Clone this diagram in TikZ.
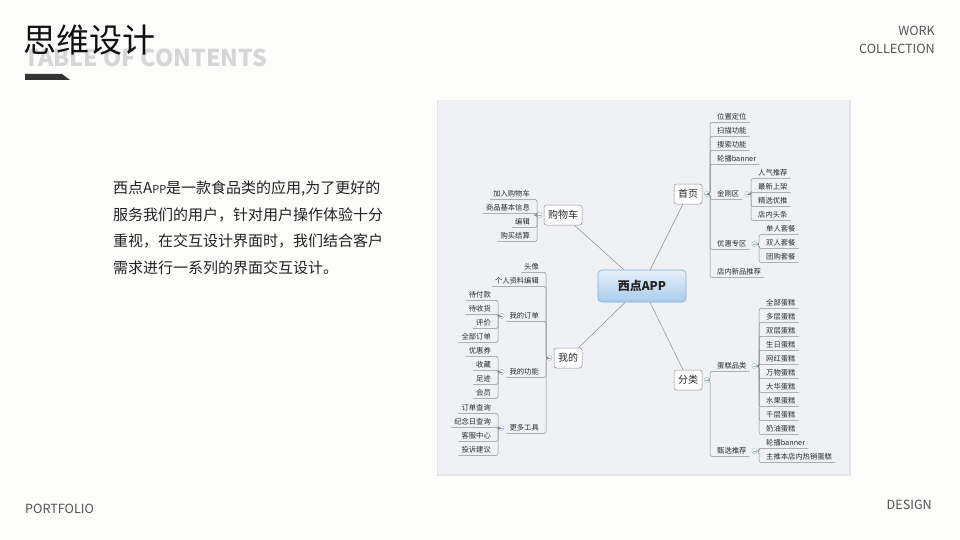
\documentclass[tikz,border=0pt]{standalone}
\usepackage{fontspec}
\setmainfont{Noto Sans CJK SC}
\usepackage{xcolor}
\usepackage{tikz}
\usetikzlibrary{positioning}
\definecolor{pageBg}{HTML}{FCFCFB}
\definecolor{panelFill}{HTML}{EFF1F5}
\definecolor{panelShade}{HTML}{E4E5E8}
\definecolor{titleInk}{HTML}{111111}
\definecolor{ghostGrey}{HTML}{D6D6D6}
\definecolor{barInk}{HTML}{333333}
\definecolor{capsGrey}{HTML}{555555}
\definecolor{bodyInk}{HTML}{222222}
\definecolor{branchGrey}{HTML}{8C8C8C}
\definecolor{leafInk}{HTML}{2B2B2B}
\definecolor{boxLine}{HTML}{8E8E8E}
\definecolor{rootTop}{HTML}{E6F0FA}
\definecolor{rootBottom}{HTML}{A9CCEB}
\definecolor{rootLine}{HTML}{7FA6D2}
\definecolor{foldBlue}{HTML}{9DB3CF}
\tikzset{
  pagetitle/.style={anchor=base west, inner sep=0pt, font=\fontsize{33}{33}\selectfont, text=titleInk},
  ghosttitle/.style={anchor=base west, inner sep=0pt, font=\fontsize{23.2}{24}\selectfont\bfseries, text=ghostGrey},
  cornertext/.style={inner sep=0pt, font=\fontsize{12.6}{13}\selectfont, text=capsGrey},
  bodytext/.style={anchor=base west, inner sep=0pt, align=left, font=\fontsize{15}{26.7}\selectfont, text=bodyInk},
  % --- mind map styles ---
  rootbox/.style={rectangle, rounded corners=4pt, draw=rootLine, top color=rootTop, bottom color=rootBottom, line width=0.6pt, font=\fontsize{12}{14}\selectfont\bfseries, text=bodyInk, minimum width=88pt, minimum height=32pt},
  mainbox/.style={rectangle, rounded corners=2.5pt, draw=boxLine, fill=white, line width=0.5pt, font=\fontsize{10}{12}\selectfont, text=leafInk, inner xsep=4pt, inner ysep=0pt, minimum height=20pt},
  leaf/.style={font=\fontsize{7.3}{8}\selectfont, text=leafInk, inner xsep=3pt, inner ysep=1.5pt, text height=6pt, text depth=1.5pt},
  leafR/.style={leaf, anchor=west},
  leafL/.style={leaf, anchor=east},
  foldmark/.style={circle, draw=foldBlue, fill=white, line width=0.4pt, inner sep=0pt, minimum size=5pt,
    path picture={\draw[foldBlue, line width=0.4pt] ([xshift=-1.5pt]path picture bounding box.center) -- ([xshift=1.5pt]path picture bounding box.center);}},
  branch/.style={draw=branchGrey, line width=0.5pt, rounded corners=2pt},
  spoke/.style={draw=branchGrey, line width=0.5pt},
}
\begin{document}
\begin{tikzpicture}[x=1pt,y=-1pt]
  \fill[pageBg] (0,0) rectangle (960,540);
  \useasboundingbox (0,0) rectangle (960,540);

  % heading and corner texts
  \node[ghosttitle] (ghost) at (24,67) {TABLE OF CONTENTS};
  \node[pagetitle] (title) at (23,53) {思维设计};
  \fill[barInk] (25,74) -- (62,74) -- (70,80) -- (25,80) -- cycle;
  \node[cornertext, anchor=base east] (work) at (935,35.2) {WORK};
  \node[cornertext, anchor=base east] (collection) at (935,53.2) {COLLECTION};
  \node[cornertext, anchor=base west] (portfolio) at (25,513.2) {PORTFOLIO};
  \node[cornertext, anchor=base east] (design) at (932,509.2) {DESIGN};

  \node[bodytext] (intro) at (113,273.5) {西点A{\fontsize{11}{11}\selectfont PP}是一款食品类的应用,为了更好的\\
    服务我们的用户，针对用户操作体验十分\\
    重视，在交互设计界面时，我们结合客户\\
    需求进行一系列的界面交互设计。};

  % mind map panel
  \fill[panelShade] (437,100) rectangle (851,476);
  \fill[panelFill] (438,100) rectangle (849,474);

  \node[rootbox] (root) at (642,286) {西点APP};
  \node[mainbox] (sy) at (688,194) {首页};
  \node[mainbox] (gwc) at (563,215) {购物车};
  \node[mainbox] (wd) at (568,358) {我的};
  \node[mainbox] (fl) at (688,380) {分类};
  \draw[spoke] (root) -- (sy);
  \draw[spoke] (root) -- (gwc);
  \draw[spoke] (root) -- (wd);
  \draw[spoke] (root) -- (fl);

  % 首页
  \node[foldmark, right=2pt of sy] (syfold) {};
  \coordinate (sybar) at (710,194);
  \node[leafR] (sy1) at (714,117) {位置定位};
  \node[leafR] (sy2) at (714,131) {扫描功能};
  \node[leafR] (sy3) at (714,145) {搜索功能};
  \node[leafR] (sy4) at (714,159) {轮播banner};
  \node[leafR] (sy5) at (714,194) {金刚区};
  \node[leafR] (sy6) at (714,244) {优惠专区};
  \node[leafR] (sy7) at (714,272) {店内新品推荐};
  \foreach \c in {sy1,sy2,sy3,sy4,sy5,sy6,sy7}
    \draw[branch] (syfold) -- (sybar) |- (\c.south east);

  \node[foldmark, right=2pt of sy5] (jgfold) {};
  \coordinate (jgbar) at (751,194);
  \node[leafR] (jg1) at (755,173) {人气推荐};
  \node[leafR] (jg2) at (755,187) {最新上架};
  \node[leafR] (jg3) at (755,201) {精选优推};
  \node[leafR] (jg4) at (755,215) {店内头条};
  \foreach \c in {jg1,jg2,jg3,jg4}
    \draw[branch] (jgfold) -- (jgbar) |- (\c.south east);

  \node[foldmark, right=2pt of sy6] (yhfold) {};
  \coordinate (yhbar) at (759,244);
  \node[leafR] (yh1) at (763,229) {单人套餐};
  \node[leafR] (yh2) at (763,243) {双人套餐};
  \node[leafR] (yh3) at (763,257) {团购套餐};
  \foreach \c in {yh1,yh2,yh3}
    \draw[branch] (yhfold) -- (yhbar) |- (\c.south east);

  % 购物车
  \node[foldmark, left=1.5pt of gwc] (gwcfold) {};
  \coordinate (gwcbar) at (537,215);
  \node[leafL] (gwc1) at (533,194) {加入购物车};
  \node[leafL] (gwc2) at (533,208) {商品基本信息};
  \node[leafL] (gwc3) at (533,222) {编辑};
  \node[leafL] (gwc4) at (533,236) {购买结算};
  \foreach \c in {gwc1,gwc2,gwc3,gwc4}
    \draw[branch] (gwcfold) -- (gwcbar) |- (\c.south west);

  % 我的
  \node[foldmark, left=1.5pt of wd] (wdfold) {};
  \coordinate (wdbar) at (546,358);
  \node[leafL] (wd1) at (542,267) {头像};
  \node[leafL] (wd2) at (542,281) {个人资料编辑};
  \node[leafL] (wd3) at (542,316) {我的订单};
  \node[leafL] (wd4) at (542,372) {我的功能};
  \node[leafL] (wd5) at (542,428) {更多工具};
  \foreach \c in {wd1,wd2,wd3,wd4,wd5}
    \draw[branch] (wdfold) -- (wdbar) |- (\c.south west);

  \node[foldmark, left=2pt of wd3] (ddfold) {};
  \coordinate (ddbar) at (498,316);
  \node[leafL] (dd1) at (494,295) {待付款};
  \node[leafL] (dd2) at (494,309) {待收货};
  \node[leafL] (dd3) at (494,323) {评价};
  \node[leafL] (dd4) at (494,337) {全部订单};
  \foreach \c in {dd1,dd2,dd3,dd4}
    \draw[branch] (ddfold) -- (ddbar) |- (\c.south west);

  \node[foldmark, left=2pt of wd4] (gnfold) {};
  \coordinate (gnbar) at (498,372);
  \node[leafL] (gn1) at (494,351) {优惠券};
  \node[leafL] (gn2) at (494,365) {收藏};
  \node[leafL] (gn3) at (494,379) {足迹};
  \node[leafL] (gn4) at (494,393) {会员};
  \foreach \c in {gn1,gn2,gn3,gn4}
    \draw[branch] (gnfold) -- (gnbar) |- (\c.south west);

  \node[foldmark, left=2pt of wd5] (gjfold) {};
  \coordinate (gjbar) at (498,428);
  \node[leafL] (gj1) at (494,408) {订单查询};
  \node[leafL] (gj2) at (494,422) {纪念日查询};
  \node[leafL] (gj3) at (494,436) {客服中心};
  \node[leafL] (gj4) at (494,450) {投诉建议};
  \foreach \c in {gj1,gj2,gj3,gj4}
    \draw[branch] (gjfold) -- (gjbar) |- (\c.south west);

  % 分类
  \node[foldmark, right=2pt of fl] (flfold) {};
  \coordinate (flbar) at (710,380);
  \node[leafR] (fl1) at (714,366) {蛋糕品类};
  \node[leafR] (fl2) at (714,451) {甄选推荐};
  \foreach \c in {fl1,fl2}
    \draw[branch] (flfold) -- (flbar) |- (\c.south east);

  \node[foldmark, right=2pt of fl1] (ckfold) {};
  \coordinate (ckbar) at (759,366);
  \node[leafR] (ck1) at (763,303) {全部蛋糕};
  \node[leafR] (ck2) at (763,317) {多层蛋糕};
  \node[leafR] (ck3) at (763,331) {双层蛋糕};
  \node[leafR] (ck4) at (763,345) {生日蛋糕};
  \node[leafR] (ck5) at (763,359) {网红蛋糕};
  \node[leafR] (ck6) at (763,373) {万物蛋糕};
  \node[leafR] (ck7) at (763,387) {大华蛋糕};
  \node[leafR] (ck8) at (763,401) {水果蛋糕};
  \node[leafR] (ck9) at (763,415) {千层蛋糕};
  \node[leafR] (ck10) at (763,429) {奶油蛋糕};
  \foreach \c in {ck1,ck2,ck3,ck4,ck5,ck6,ck7,ck8,ck9,ck10}
    \draw[branch] (ckfold) -- (ckbar) |- (\c.south east);

  \node[foldmark, right=2pt of fl2] (jxfold) {};
  \coordinate (jxbar) at (759,451);
  \node[leafR] (jx1) at (763,443) {轮播banner};
  \node[leafR] (jx2) at (763,457) {主推本店内热销蛋糕};
  \foreach \c in {jx1,jx2}
    \draw[branch] (jxfold) -- (jxbar) |- (\c.south east);
\end{tikzpicture}
\end{document}
